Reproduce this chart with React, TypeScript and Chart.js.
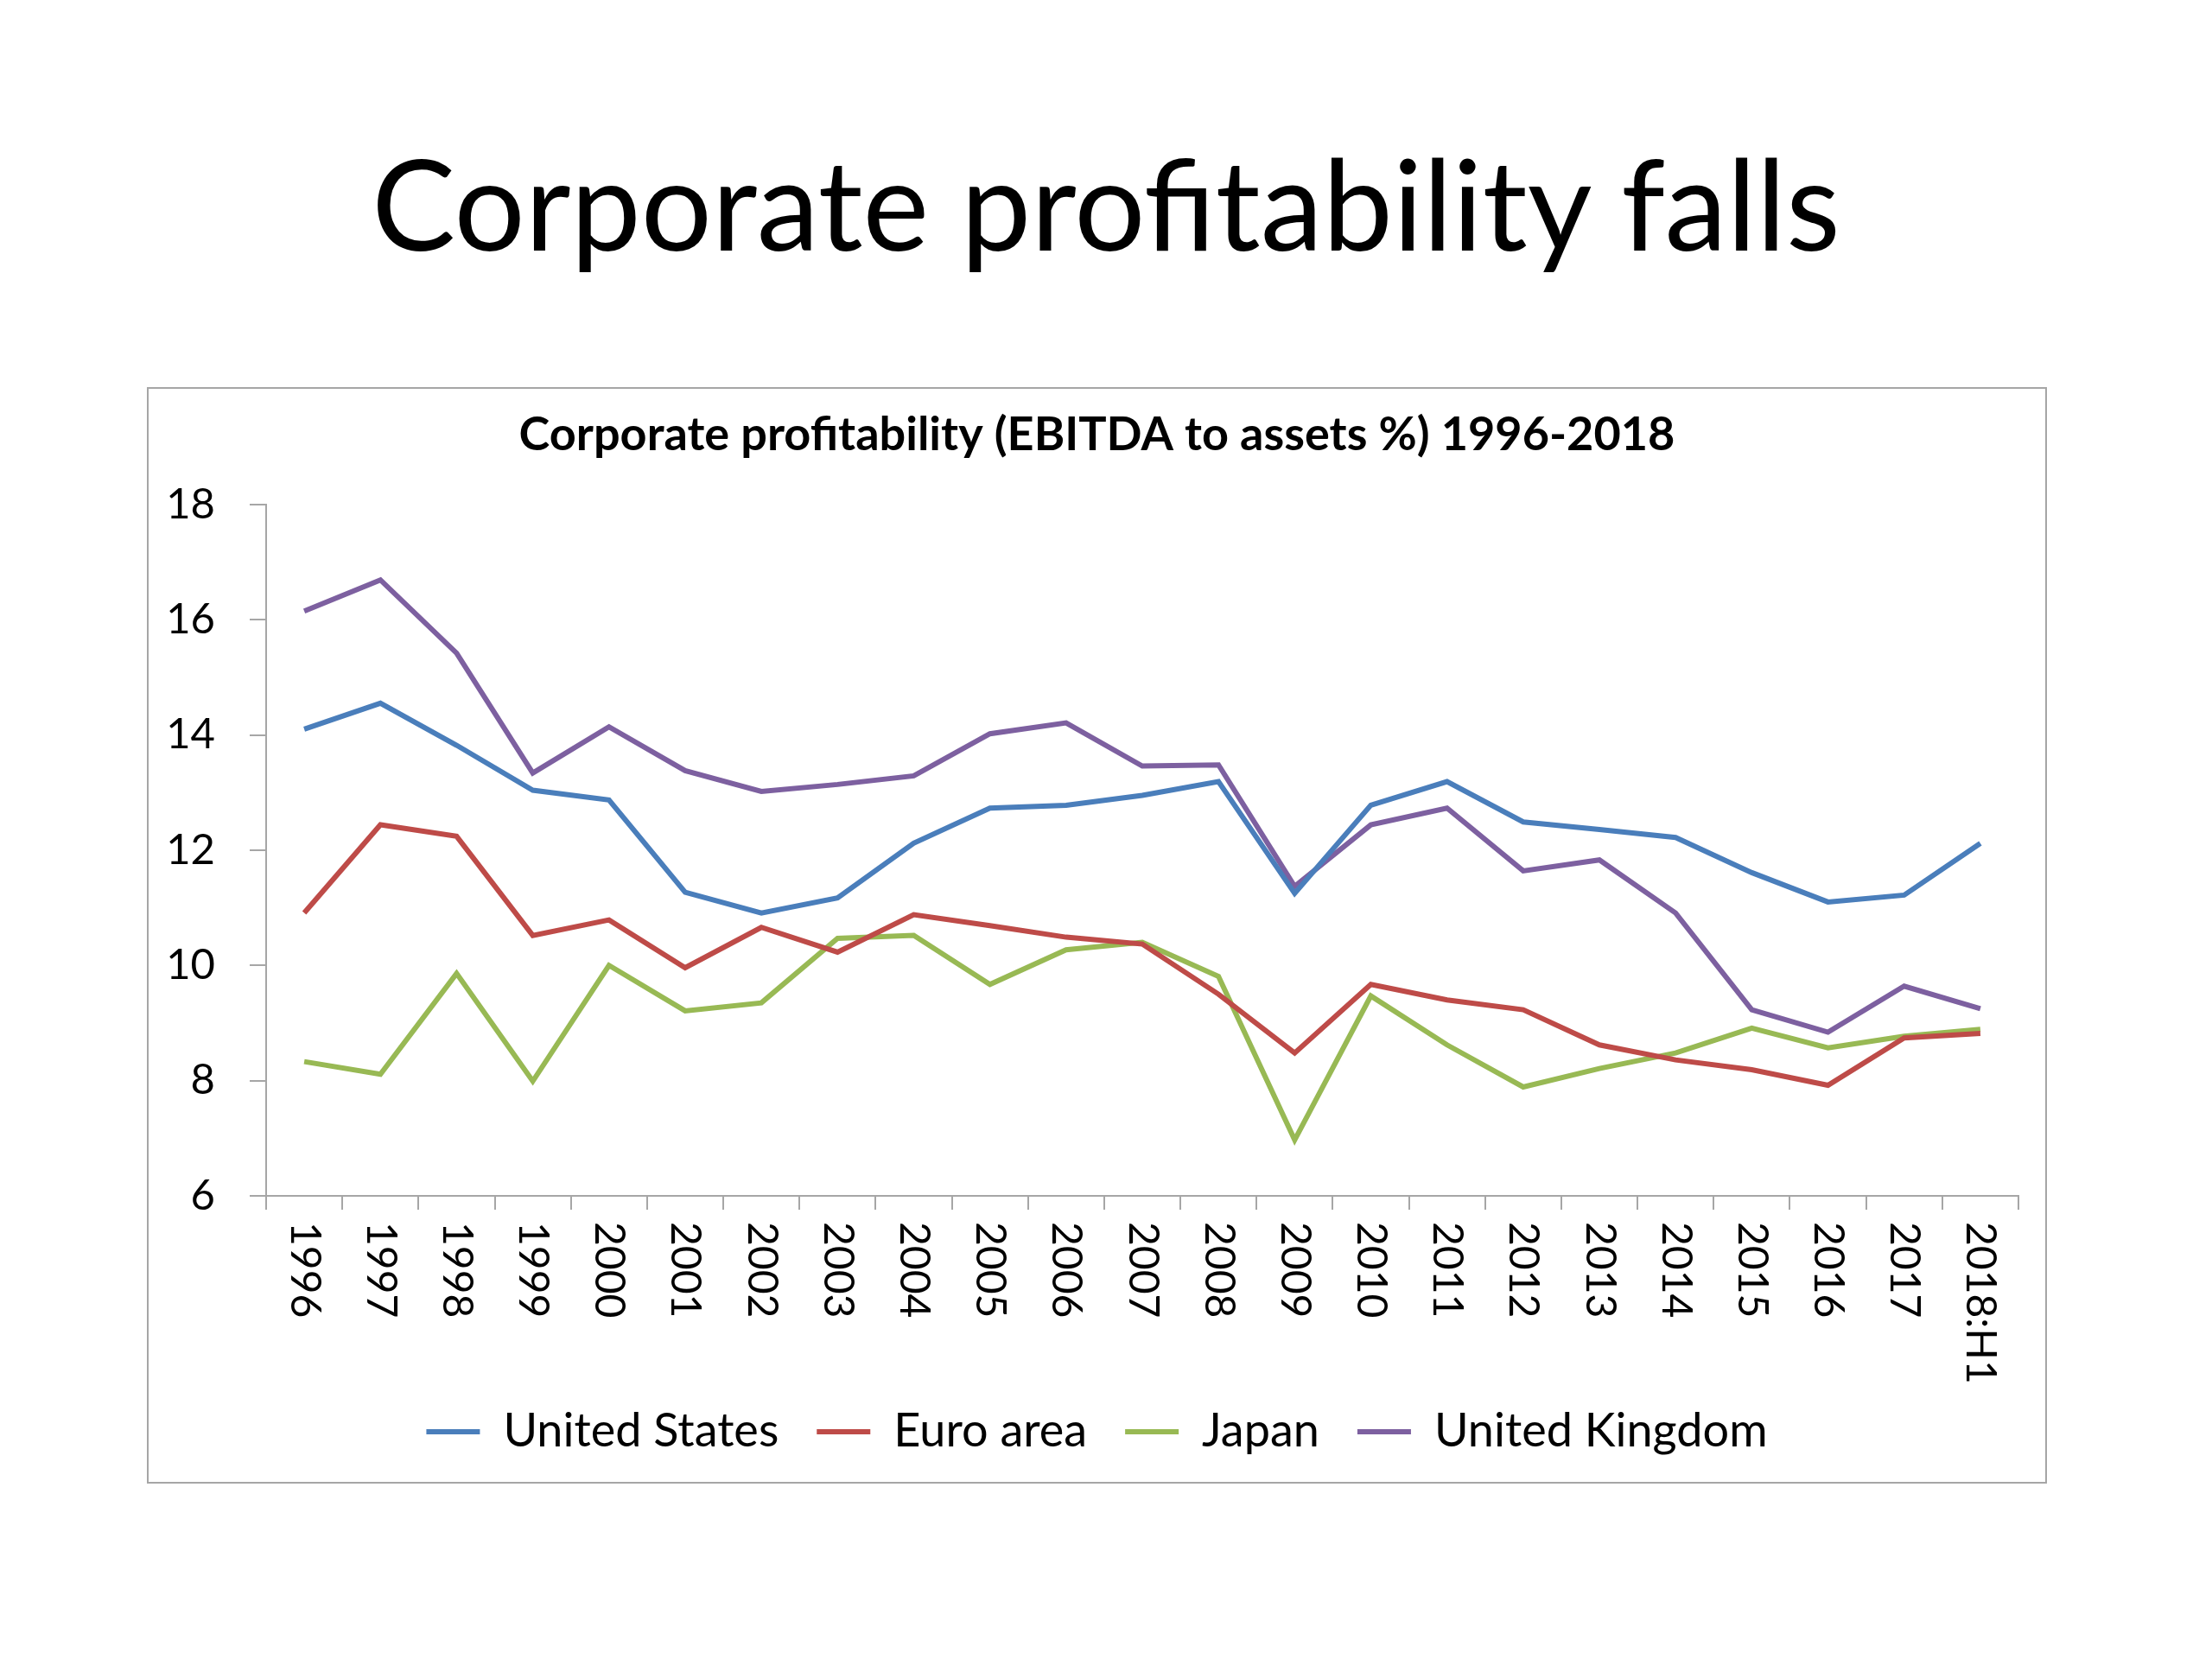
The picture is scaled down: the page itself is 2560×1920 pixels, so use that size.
import { useEffect, useRef } from 'react';
import { Chart, registerables } from 'chart.js';

Chart.register(...registerables);

const FONT = 'Lato, "Open Sans", sans-serif';
const AXIS = '#a6a6a6';

const categories = [
  '1996', '1997', '1998', '1999', '2000', '2001', '2002', '2003', '2004', '2005', '2006', '2007',
  '2008', '2009', '2010', '2011', '2012', '2013', '2014', '2015', '2016', '2017', '2018:H1',
];

// EBITDA to assets, %
const unitedStates = [
  14.1, 14.55, 13.82, 13.04, 12.87, 11.27, 10.91, 11.17, 12.12, 12.73, 12.78, 12.95,
  13.19, 11.25, 12.78, 13.19, 12.49, 12.36, 12.22, 11.61, 11.1, 11.22, 12.12,
];
const euroArea = [
  10.91, 12.44, 12.24, 10.52, 10.79, 9.96, 10.66, 10.23, 10.88, 10.69, 10.49, 10.37,
  9.5, 8.48, 9.67, 9.4, 9.23, 8.62, 8.36, 8.19, 7.92, 8.74, 8.82,
];
const japan = [
  8.33, 8.11, 9.86, 7.99, 10.0, 9.21, 9.35, 10.47, 10.52, 9.67, 10.27, 10.4,
  9.81, 6.97, 9.47, 8.62, 7.89, 8.21, 8.48, 8.91, 8.57, 8.77, 8.89,
];
const unitedKingdom = [
  16.15, 16.69, 15.42, 13.34, 14.14, 13.38, 13.02, 13.14, 13.29, 14.02, 14.21, 13.46,
  13.48, 11.37, 12.44, 12.73, 11.64, 11.83, 10.91, 9.23, 8.84, 9.64, 9.25,
];

// year labels read top-to-bottom, so they are drawn here instead of by the axis
const verticalLabels = {
  id: 'verticalLabels',
  afterDraw(chart: Chart) {
    const xs = chart.scales.x;
    const ctx = chart.ctx;
    ctx.save();
    ctx.font = `48px ${FONT}`;
    ctx.fillStyle = '#000';
    ctx.textAlign = 'left';
    ctx.textBaseline = 'middle';
    (chart.data.labels as string[]).forEach((label, i) => {
      ctx.save();
      ctx.translate(xs.getPixelForValue(i), xs.top + 30);
      ctx.rotate(Math.PI / 2);
      ctx.fillText(label, 0, 0);
      ctx.restore();
    });
    ctx.restore();
  },
};

function ProfitabilityChart() {
  const canvasRef = useRef<HTMLCanvasElement>(null);

  useEffect(() => {
    if (!canvasRef.current) return;

    const line = (label: string, data: number[], color: string) => ({
      label,
      data,
      borderColor: color,
      backgroundColor: color,
      borderWidth: 6,
      pointRadius: 0,
      tension: 0,
      fill: false,
    });

    const chart = new Chart(canvasRef.current, {
      type: 'line',
      data: {
        labels: categories,
        datasets: [
          line('United States', unitedStates, '#4a7ebb'),
          line('Euro area', euroArea, '#be4b48'),
          line('Japan', japan, '#98b954'),
          line('United Kingdom', unitedKingdom, '#7d60a0'),
        ],
      },
      options: {
        responsive: false,
        animation: false,
        devicePixelRatio: 1,
        events: [],
        layout: { padding: 0 },
        scales: {
          x: {
            offset: true,
            ticks: { display: false },
            grid: {
              display: true,
              offset: true,
              drawOnChartArea: false,
              drawTicks: true,
              tickLength: 16,
              color: AXIS,
              lineWidth: 2,
            },
            border: { display: true, color: AXIS, width: 2 },
            afterFit: (s: any) => { s.height = 202; },
          },
          y: {
            min: 6,
            max: 18,
            ticks: { stepSize: 2, padding: 40, color: '#000', font: { family: FONT, size: 49 } },
            grid: {
              display: true,
              drawOnChartArea: false,
              drawTicks: true,
              tickLength: 19,
              color: AXIS,
              lineWidth: 2,
            },
            border: { display: true, color: AXIS, width: 2 },
            afterFit: (s: any) => { s.width = 138; },
          },
          // empty right-hand spacer so the title and legend stay centred in the box
          spacer: {
            type: 'linear',
            position: 'right',
            display: true,
            grid: { display: false },
            border: { display: false },
            ticks: { display: false },
            afterFit: (s: any) => { s.width = 33; },
          },
        },
        plugins: {
          title: {
            display: true,
            text: 'Corporate profitability (EBITDA to assets %) 1996-2018',
            color: '#000',
            font: { family: FONT, size: 54, weight: 'bold' },
            padding: { top: 23, bottom: 48 },
          },
          legend: {
            position: 'bottom',
            labels: {
              usePointStyle: true,
              pointStyle: 'line',
              pointStyleWidth: 62,
              padding: 44,
              color: '#000',
              font: { family: FONT, size: 54 },
            },
          },
          tooltip: { enabled: false },
        },
      },
      plugins: [verticalLabels],
    });

    return () => chart.destroy();
  }, []);

  return (
    <canvas
      ref={canvasRef}
      width={2199}
      height={1246}
      style={{ position: 'absolute', left: 170, top: 448, width: 2199, height: 1246 }}
    />
  );
}

export default function App() {
  return (
    <div style={{ position: 'absolute', left: 0, top: 0, width: 2560, height: 1920, background: '#fff' }}>
      <div
        style={{
          position: 'absolute',
          left: 0,
          top: 162,
          width: 2560,
          textAlign: 'center',
          fontFamily: FONT,
          fontSize: 145,
          lineHeight: 1,
          color: '#000',
        }}
      >
        Corporate profitability falls
      </div>
      <div
        style={{
          position: 'absolute',
          left: 170,
          top: 448,
          width: 2199,
          height: 1269,
          border: `2px solid ${AXIS}`,
          boxSizing: 'border-box',
        }}
      />
      <ProfitabilityChart />
    </div>
  );
}
